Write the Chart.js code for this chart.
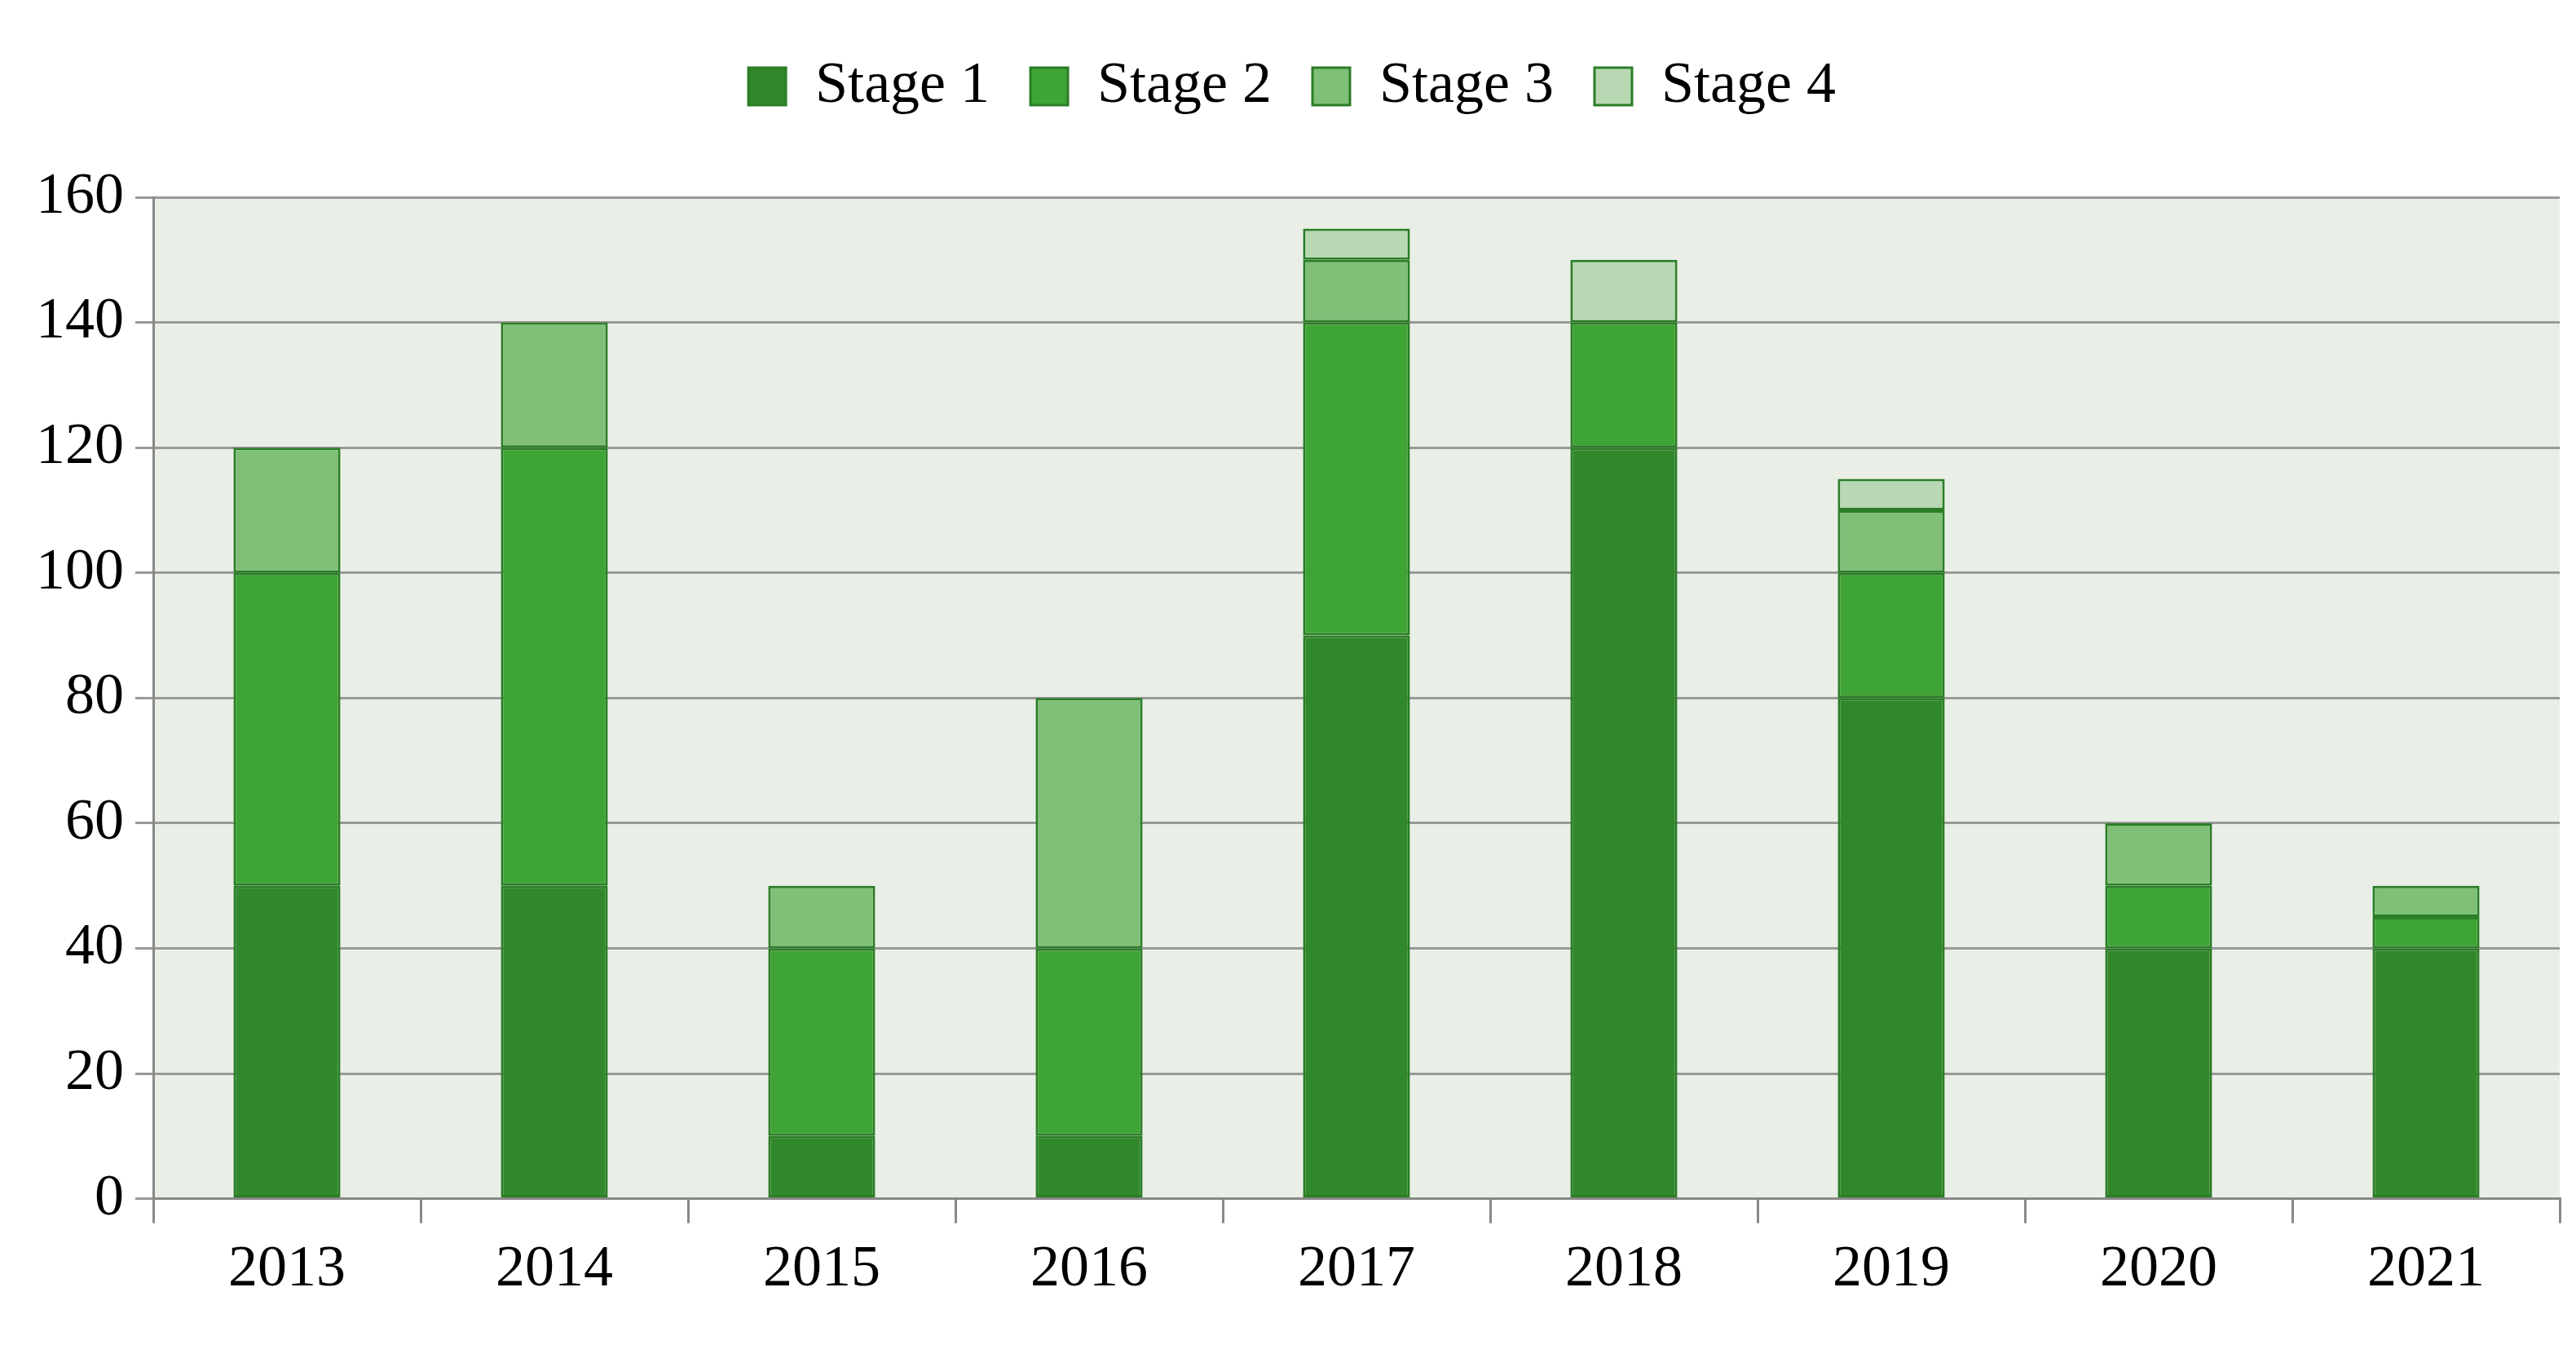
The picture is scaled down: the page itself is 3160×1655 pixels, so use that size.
<!DOCTYPE html>
<html><head><meta charset="utf-8">
<script src="https://cdn.jsdelivr.net/npm/chart.js@4/dist/chart.umd.min.js"></script>
<style>html,body{margin:0;background:#fff}#w{width:3160px;height:1655px}</style>
</head><body><div id="w"><canvas id="c"></canvas></div>
<script>
const years = ['2013','2014','2015','2016','2017','2018','2019','2020','2021'];
const stage1 = [50,50,10,10,90,120,80,40,40];
const stage2 = [50,70,30,30,50,20,20,10,5];
const stage3 = [20,20,10,40,10,0,10,10,5];
const stage4 = [0,0,0,0,5,10,5,0,0];
const seriesNames = ['Stage 1','Stage 2','Stage 3','Stage 4'];
const colors = ['#31882c','#3ea435','#7fbf77','#b8d8b3'];
const font = {family:'"Liberation Serif","DejaVu Serif",serif', size:72};
const bg = {id:'bg', beforeDraw(c){const a=c.chartArea,x=c.ctx;x.save();x.fillStyle='#e9efe7';x.fillRect(a.left,a.top,a.right-a.left,a.bottom-a.top);x.restore();}};
const lm = {id:'lm', beforeInit(c){const f=c.legend.fit; c.legend.fit=function(){f.call(this); this.height+=90;};}};
new Chart(document.getElementById('c'),{
 type:'bar',
 data:{labels:years,datasets:[stage1,stage2,stage3,stage4].map((d,i)=>({label:seriesNames[i],data:d,backgroundColor:colors[i],borderColor:'#2b7d26',borderWidth:3,borderSkipped:false,categoryPercentage:0.4,barPercentage:1}))},
 options:{responsive:true,maintainAspectRatio:false,animation:false,
  layout:{padding:{left:30,right:20,top:20,bottom:40}},
  plugins:{legend:{position:'top',labels:{font,color:'#000',boxWidth:46,boxHeight:46,padding:50}},tooltip:{enabled:false}},
  scales:{
   x:{stacked:true,ticks:{font,color:'#000',padding:14},grid:{offset:true,drawOnChartArea:false,tickLength:30,color:'#888',lineWidth:3},border:{color:'#888',width:3}},
   y:{stacked:true,min:0,max:160,ticks:{stepSize:20,font,color:'#000',padding:14},grid:{color:'#999',lineWidth:3,tickLength:22},border:{color:'#888',width:3}}
  }},
 plugins:[bg,lm]
});
</script></body></html>
